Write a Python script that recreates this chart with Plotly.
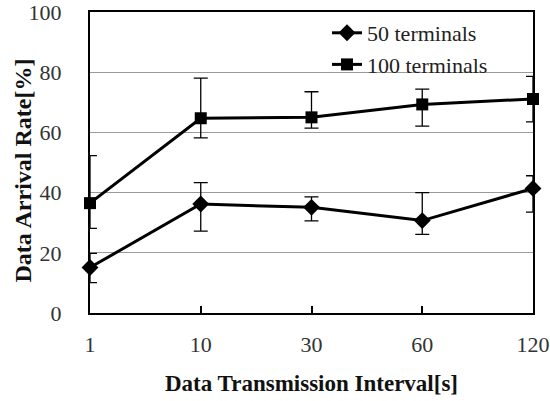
import plotly.graph_objects as go

intervals = ["1", "10", "30", "60", "120"]

rate_50 = [15.1, 36.2, 35.1, 30.7, 41.4]
err_50_up = [19.8, 43.3, 38.6, 40.0, 45.6]
err_50_low = [10.1, 27.2, 30.6, 26.1, 33.5]

rate_100 = [36.5, 64.7, 65.0, 69.3, 71.1]
err_100_up = [52.3, 78.0, 73.5, 74.4, 78.6]
err_100_low = [28.1, 58.2, 61.4, 62.1, 63.5]

FONT = "Liberation Serif"


def err_arrays(vals, up, low):
    plus = [u - v for u, v in zip(up, vals)]
    minus = [v - l for v, l in zip(vals, low)]
    return plus, minus


fig = go.Figure()

for name, vals, up, low, symbol, size in [
    ("50 terminals", rate_50, err_50_up, err_50_low, "diamond", 13),
    ("100 terminals", rate_100, err_100_up, err_100_low, "square", 12),
]:
    plus, minus = err_arrays(vals, up, low)
    fig.add_trace(go.Scatter(
        x=intervals, y=vals, name=name, mode="lines+markers",
        line=dict(color="black", width=3),
        marker=dict(symbol=symbol, size=size, color="black"),
        error_y=dict(type="data", symmetric=False, array=plus, arrayminus=minus,
                     color="black", thickness=1.3, width=7),
        cliponaxis=False,
    ))

# vertical axis title placed as a rotated annotation left of the tick labels
fig.add_annotation(
    text="<b>Data Arrival Rate[%]</b>", textangle=-90,
    xref="paper", yref="paper", x=0, y=0.5, xanchor="center", yanchor="middle",
    xshift=-68, yshift=-8, showarrow=False,
    font=dict(family=FONT, size=24, color="#111"),
)

fig.update_layout(
    width=550, height=401,
    margin=dict(l=90, r=17, t=12, b=88),
    paper_bgcolor="white", plot_bgcolor="white",
    font=dict(family=FONT, color="#222", size=22),
    showlegend=True,
    legend=dict(x=0.535, y=1.0, xanchor="left", yanchor="top",
                bgcolor="rgba(0,0,0,0)", font=dict(family=FONT, size=22, color="#222"),
                tracegroupgap=0),
    xaxis=dict(
        type="category", range=[0, 4], automargin=False,
        title=dict(text="<b>Data Transmission Interval[s]</b>",
                   font=dict(family=FONT, size=23, color="#111"), standoff=18),
        showline=True, linecolor="black", linewidth=2, mirror=True,
        ticks="inside", ticklen=7, tickcolor="black", tickwidth=1.5,
        showgrid=False, tickfont=dict(family=FONT, size=22, color="#333"),
        ticklabelstandoff=11, ticklabeloverflow="allow",
    ),
    yaxis=dict(
        range=[0, 100], tickvals=[0, 20, 40, 60, 80, 100], automargin=False,
        showline=True, linecolor="black", linewidth=2, mirror=True,
        ticks="", showgrid=True, gridcolor="#9a9a9a", gridwidth=1,
        zeroline=False, tickfont=dict(family=FONT, size=22, color="#333"),
        ticklabelstandoff=22, ticklabeloverflow="allow",
    ),
)

fig.write_html("out.html")
